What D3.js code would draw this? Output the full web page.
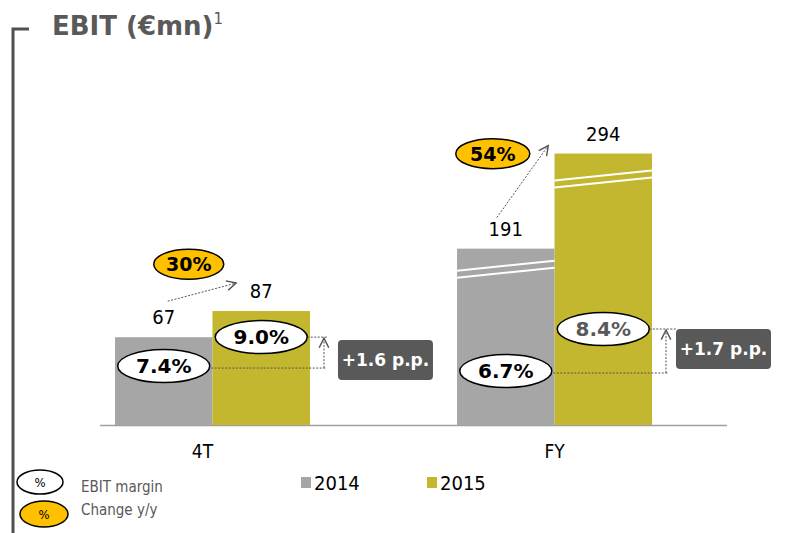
<!DOCTYPE html>
<html>
<head>
<meta charset="utf-8">
<script src="https://cdn.jsdelivr.net/npm/d3@7"></script>
<style>
  body { margin: 0; background: #fff; }
  svg text { font-family: "DejaVu Sans Condensed", "DejaVu Sans", sans-serif; }
  .bold { font-family: "DejaVu Sans", sans-serif !important; font-weight: bold; }
</style>
</head>
<body>
<div id="chart"></div>
<script>
const categories = ["4T", "FY"];
const years = ["2014", "2015"];
const ebit = { "4T": [67, 87], "FY": [191, 294] };
const margins = { "4T": [7.4, 9.0], "FY": [6.7, 8.4] };
const changes = { "4T": "30%", "FY": "54%" };
const ppLabels = { "4T": "+1.6 p.p.", "FY": "+1.7 p.p." };

const width = 795, height = 533;
const baseY = 425;
const colors = ["#a6a6a6", "#c2b72f"];
const darkGray = "#595959";

const svg = d3.select("#chart").append("svg")
    .attr("width", width)
    .attr("height", height);

// arrow markers
const defs = svg.append("defs");
defs.append("marker")
    .attr("id", "open")
    .attr("viewBox", "0 0 10 10")
    .attr("refX", 9).attr("refY", 5)
    .attr("markerWidth", 12).attr("markerHeight", 12)
    .attr("markerUnits", "userSpaceOnUse")
    .attr("orient", "auto")
    .append("path")
    .attr("d", "M1,1 L9,5 L1,9")
    .attr("fill", "none")
    .attr("stroke", "#555")
    .attr("stroke-width", 1.2);

// title + bracket
svg.append("path")
    .attr("d", "M13,533 L13,29 L29,29")
    .attr("fill", "none")
    .attr("stroke", "#505050")
    .attr("stroke-width", 3);

const title = svg.append("text")
    .attr("class", "bold")
    .attr("x", 52).attr("y", 35)
    .attr("fill", darkGray)
    .style("font-size", "26px");
title.append("tspan").text("EBIT (€mn)");
title.append("tspan").attr("dy", -11).attr("dx", 0).style("font-size", "15px").style("font-weight", "normal").text("1");

// scales (FY uses a broken axis, so each group has its own y scale)
const x0 = d3.scaleBand().domain(categories).range([115, 652]).paddingInner(0.43).paddingOuter(0);
const x1 = d3.scaleBand().domain(years).range([0, x0.bandwidth()]);
const yScale = {
    "4T": d3.scaleLinear().domain([0, 100]).range([baseY, baseY - 131]),
    "FY": d3.scaleLinear().domain([0, 300]).range([baseY, baseY - 277])
};
const mScale = {
    "4T": d3.scaleLinear().domain([5, 10]).range([409.5, 319]),
    "FY": d3.scaleLinear().domain([5, 10]).range([413, 289.5])
};
// annotation layout for the y/y change bubble and arrow
const changeLayout = {
    "4T": { cx: 25, cy: -60, rx: 35, a0: [4, -23], a1: [-25, -15] },
    "FY": { cx: -13, cy: -82, rx: 37, a0: [-9, -18], a1: [-55, 5] }
};

// axis line
svg.append("line")
    .attr("x1", 100).attr("x2", 727)
    .attr("y1", baseY + 0.5).attr("y2", baseY + 0.5)
    .attr("stroke", "#a0a0a0").attr("stroke-width", 1.5);

categories.forEach(cat => {
    const g = svg.append("g").attr("transform", `translate(${x0(cat)},0)`);
    const y = yScale[cat];
    const vals = ebit[cat];

    g.selectAll("rect")
        .data(vals)
        .enter().append("rect")
        .attr("x", (d, i) => x1(years[i]))
        .attr("width", x1.bandwidth())
        .attr("y", d => y(d))
        .attr("height", d => baseY - y(d))
        .attr("fill", (d, i) => colors[i]);

    // break marks on FY bars
    if (cat === "FY") {
        vals.forEach((d, i) => {
            const top = y(d);
            const bx = x1(years[i]), bw = x1.bandwidth();
            const off = i === 0 ? 22 : 27;
            [0, 7].forEach(k => {
                g.append("line")
                    .attr("x1", bx).attr("x2", bx + bw)
                    .attr("y1", top + off + k).attr("y2", top + off + k - 10)
                    .attr("stroke", "#fff").attr("stroke-width", 2);
            });
        });
    }

    // value labels
    g.selectAll("text.val")
        .data(vals)
        .enter().append("text")
        .attr("class", "val")
        .attr("x", (d, i) => x1(years[i]) + x1.bandwidth() / 2)
        .attr("y", d => y(d) - 13)
        .attr("text-anchor", "middle")
        .style("font-size", "20px")
        .attr("fill", "#000")
        .text(d => d);

    // change arrow + bubble
    const L = changeLayout[cat];
    const gx = x1(years[0]) + x1.bandwidth() / 2;
    const gLab = y(vals[0]) - 13;
    const sx = x1(years[1]) + x1.bandwidth() / 2;
    const sLab = y(vals[1]) - 13;
    g.append("line")
        .attr("x1", gx + L.a0[0]).attr("y1", gLab + L.a0[1])
        .attr("x2", sx + L.a1[0]).attr("y2", sLab + L.a1[1])
        .attr("stroke", "#555").attr("stroke-width", 1)
        .attr("stroke-dasharray", "2,1.5")
        .attr("marker-end", "url(#open)");
    g.append("ellipse")
        .attr("cx", gx + L.cx).attr("cy", gLab + L.cy)
        .attr("rx", L.rx).attr("ry", 15)
        .attr("fill", "#ffc000").attr("stroke", "#000").attr("stroke-width", 1.5);
    g.append("text")
        .attr("class", "bold")
        .attr("x", gx + L.cx).attr("y", gLab + L.cy + 7)
        .attr("text-anchor", "middle")
        .style("font-size", "19px")
        .text(changes[cat]);

    // margin connectors
    const m = margins[cat];
    const my = m.map(v => mScale[cat](v));
    const rightX = x1.range()[1];
    const vx = rightX + 14;
    g.append("line")
        .attr("x1", x1(years[0]) + x1.bandwidth() / 2 + 44).attr("x2", vx + 2)
        .attr("y1", my[0] + 2).attr("y2", my[0] + 2)
        .attr("stroke", "#555").attr("stroke-dasharray", "2,1.5");
    g.append("line")
        .attr("x1", x1(years[1]) + x1.bandwidth() / 2 + 46).attr("x2", vx + (cat === "FY" ? 10 : 3))
        .attr("y1", my[1]).attr("y2", my[1])
        .attr("stroke", "#555").attr("stroke-dasharray", "2,1.5");
    g.append("line")
        .attr("x1", vx).attr("x2", vx)
        .attr("y1", my[0] + 2).attr("y2", my[1] + 1)
        .attr("stroke", "#555").attr("stroke-dasharray", "2,1.5")
        .attr("marker-end", "url(#open)");

    // margin ellipses
    m.forEach((v, i) => {
        const cx = x1(years[i]) + x1.bandwidth() / 2;
        g.append("ellipse")
            .attr("cx", cx).attr("cy", my[i])
            .attr("rx", 46).attr("ry", 16.5)
            .attr("fill", "#fff").attr("stroke", "#000").attr("stroke-width", 1.5);
        g.append("text")
            .attr("class", "bold")
            .attr("x", cx).attr("y", my[i] + 7)
            .attr("text-anchor", "middle")
            .style("font-size", "20px")
            .attr("fill", cat === "FY" && i === 1 ? darkGray : "#000")
            .text(v.toFixed(1) + "%");
    });

    // p.p. box
    const bxL = rightX + (cat === "FY" ? 24 : 28);
    const byT = my[1] + (cat === "FY" ? 0 : 3);
    g.append("rect")
        .attr("x", bxL).attr("y", byT)
        .attr("width", 95).attr("height", 40)
        .attr("rx", 4)
        .attr("fill", darkGray);
    g.append("text")
        .attr("class", "bold")
        .attr("x", bxL + 47.5).attr("y", byT + 26)
        .attr("text-anchor", "middle")
        .style("font-size", "17px")
        .attr("fill", "#fff")
        .text(ppLabels[cat]);

    // category label
    svg.append("text")
        .attr("x", x0(cat) + x0.bandwidth() / 2 + (cat === "4T" ? -10 : 0))
        .attr("y", 458)
        .attr("text-anchor", "middle")
        .style("font-size", "19px")
        .text(cat);
});

// series legend
const legendX = [301, 427];
years.forEach((yr, i) => {
    svg.append("rect")
        .attr("x", legendX[i]).attr("y", 477)
        .attr("width", 10).attr("height", 11)
        .attr("fill", colors[i]);
    svg.append("text")
        .attr("x", legendX[i] + 13).attr("y", 490)
        .style("font-size", "20px")
        .text(yr);
});

// symbol legend
const symLegend = [
    { label: "EBIT margin", fill: "#fff", cx: 40, cy: 482, rx: 23, ry: 12 },
    { label: "Change y/y", fill: "#ffc000", cx: 44, cy: 514, rx: 24, ry: 13 }
];
symLegend.forEach(s => {
    svg.append("ellipse")
        .attr("cx", s.cx).attr("cy", s.cy)
        .attr("rx", s.rx).attr("ry", s.ry)
        .attr("fill", s.fill).attr("stroke", "#000").attr("stroke-width", 1.5);
    svg.append("text")
        .attr("x", s.cx).attr("y", s.cy + 5)
        .attr("text-anchor", "middle")
        .style("font-size", "13px")
        .text("%");
    svg.append("text")
        .attr("x", 81).attr("y", s.cy + 10 - (s.fill === "#fff" ? 0 : 9))
        .style("font-size", "15px")
        .attr("fill", darkGray)
        .text(s.label);
});
</script>
</body>
</html>
